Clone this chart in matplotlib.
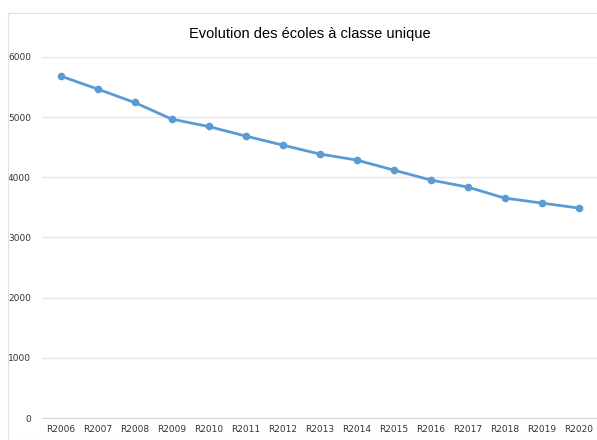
import matplotlib
matplotlib.use('Agg')
import matplotlib.pyplot as plt
from matplotlib.patches import Rectangle

annees = ['R2006', 'R2007', 'R2008', 'R2009', 'R2010', 'R2011', 'R2012', 'R2013',
          'R2014', 'R2015', 'R2016', 'R2017', 'R2018', 'R2019', 'R2020']
ecoles = [5684, 5468, 5245, 4969, 4845, 4687, 4537, 4388,
          4288, 4122, 3956, 3839, 3656, 3573, 3490]
yticks = [0, 1000, 2000, 3000, 4000, 5000, 6000]

fig = plt.figure(figsize=(5.97, 4.4), dpi=100)
fig.patches.append(Rectangle((8/597, 0), 1, 1 - 13/440, transform=fig.transFigure,
                             fill=False, edgecolor='#e0e0e0', linewidth=0.8))

ax = fig.add_axes([42/597, 22/440, 1 - 42/597, (418 - 57)/440])
x = range(len(annees))
ax.plot(x, ecoles, color='#5B9BD5', linewidth=2, marker='o', markersize=4.5)

ax.set_xlim(-0.5, len(annees) - 0.5)
ax.set_ylim(0, 6000)
ax.set_yticks(yticks)
ax.set_xticks(list(x))
ax.set_xticklabels(annees)
ax.grid(axis='y', color='#e6e6e6', linewidth=1)
ax.set_axisbelow(True)
for s in ['top', 'right', 'left']:
    ax.spines[s].set_visible(False)
ax.spines['bottom'].set_color('#d9d9d9')
ax.tick_params(axis='both', length=0, labelsize=6.5, colors='#333333')
ax.tick_params(axis='y', pad=8)
ax.tick_params(axis='x', pad=5)

fig.text(310/597, 1 - 34/440, 'Evolution des écoles à classe unique', ha='center', va='center',
         fontsize=10.5, family='Liberation Sans')

fig.savefig('out.png', dpi=100)
